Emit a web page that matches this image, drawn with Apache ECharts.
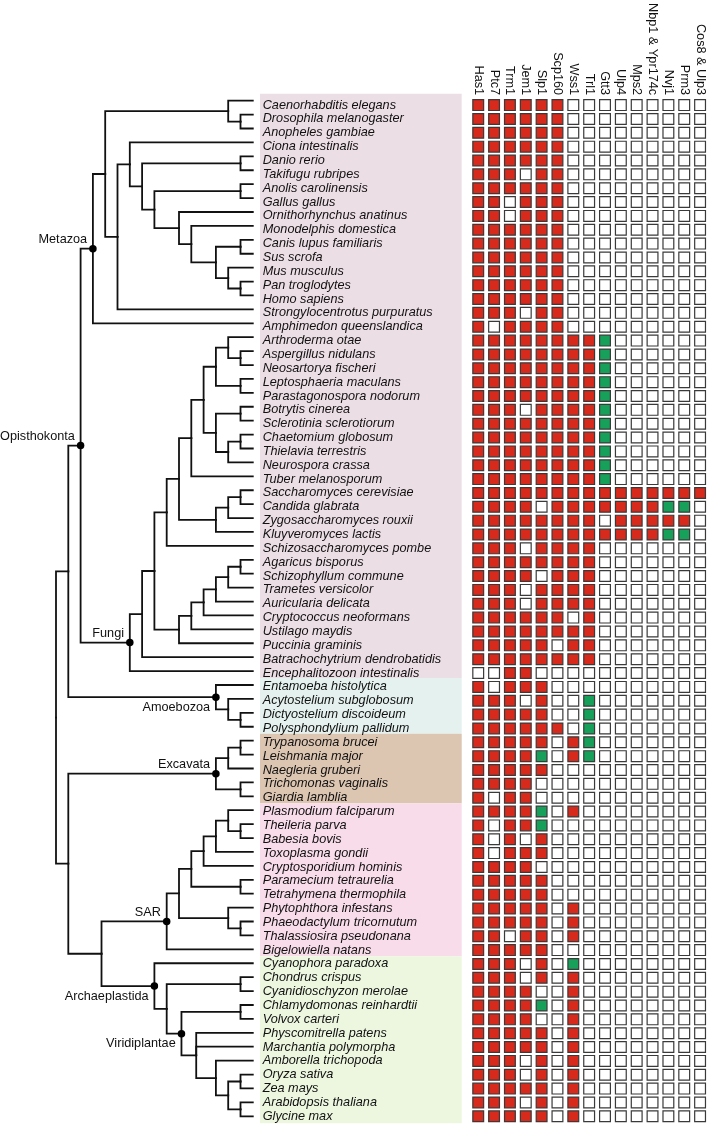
<!DOCTYPE html>
<html><head><meta charset="utf-8">
<script src="https://cdn.jsdelivr.net/npm/echarts@6/dist/echarts.min.js"></script>
<style>html,body{margin:0;padding:0;background:#fff}#c{width:708px;height:1125px}</style>
</head><body><div id="c"></div>
<script>
// ---------------- DATA ----------------
const species = [
 'Caenorhabditis elegans','Drosophila melanogaster','Anopheles gambiae','Ciona intestinalis','Danio rerio',
 'Takifugu rubripes','Anolis carolinensis','Gallus gallus','Ornithorhynchus anatinus','Monodelphis domestica',
 'Canis lupus familiaris','Sus scrofa','Mus musculus','Pan troglodytes','Homo sapiens',
 'Strongylocentrotus purpuratus','Amphimedon queenslandica',
 'Arthroderma otae','Aspergillus nidulans','Neosartorya fischeri','Leptosphaeria maculans','Parastagonospora nodorum',
 'Botrytis cinerea','Sclerotinia sclerotiorum','Chaetomium globosum','Thielavia terrestris','Neurospora crassa',
 'Tuber melanosporum','Saccharomyces cerevisiae','Candida glabrata','Zygosaccharomyces rouxii','Kluyveromyces lactis',
 'Schizosaccharomyces pombe','Agaricus bisporus','Schizophyllum commune','Trametes versicolor','Auricularia delicata',
 'Cryptococcus neoformans','Ustilago maydis','Puccinia graminis','Batrachochytrium dendrobatidis','Encephalitozoon intestinalis',
 'Entamoeba histolytica','Acytostelium subglobosum','Dictyostelium discoideum','Polysphondylium pallidum',
 'Trypanosoma brucei','Leishmania major','Naegleria gruberi','Trichomonas vaginalis','Giardia lamblia',
 'Plasmodium falciparum','Theileria parva','Babesia bovis','Toxoplasma gondii','Cryptosporidium hominis',
 'Paramecium tetraurelia','Tetrahymena thermophila','Phytophthora infestans','Phaeodactylum tricornutum',
 'Thalassiosira pseudonana','Bigelowiella natans',
 'Cyanophora paradoxa','Chondrus crispus','Cyanidioschyzon merolae','Chlamydomonas reinhardtii','Volvox carteri',
 'Physcomitrella patens','Marchantia polymorpha','Amborella trichopoda','Oryza sativa','Zea mays',
 'Arabidopsis thaliana','Glycine max'
];
const genes = ['Has1','Ptc7','Trm1','Jem1','Slp1','Scp160','Wss1','Trl1','Gtt3','Ulp4','Mps2','Nbp1 & Ypr174c','Nvj1','Prm3','Cos8 & Ulp3'];
// 0 = absent, 1 = present (red), 2 = present (green); one string per species, one digit per gene
const presence = [
 '111111000000000','111111000000000','111111000000000','111111000000000','111111000000000',
 '111011000000000','111111000000000','110111000000000','110111000000000','111111000000000',
 '111111000000000','111111000000000','111111000000000','111111000000000','111111000000000',
 '111011000000000','101111000000000',
 '111111112000000','111111112000000','111111112000000','111111112000000','111111112000000',
 '111011112000000','111111112000000','111111112000000','111111112000000','111111112000000',
 '111111112000000','111111111111111','111101111111220','111111110111110','111111111111220',
 '111011110000000','111111110000000','111101110000000','111011110000000','111011110000000',
 '111111010000000','111111110000000','111110110000000','111111110000000','001100000000000',
 '101110000000000','111010020000000','111110020000000','111111020000000',
 '111110120000000','111120120000000','111110000000000','111100000000000','101100000000000',
 '111120100000000','101120000000000','101010000000000','101110000000000','111100000000000',
 '111110000000000','111110000000000','111110100000000','111110100000000',
 '110110100000000','111110000000000',
 '111010200000000','111010100000000','111100100000000','111120100000000','111100100000000',
 '111110100000000','111110100000000','111010100000000','111010100000000','111110100000000',
 '111010100000000','111110100000000'
];
// tree: [node depth level, ...children]; leaves are species row indices (depth 16)
const leafLevel = 16;
const metazoa = [3, [4, [14, 0, [15, 1, 2]], [5, [6, 3, [7, [15, 4, 5], [8, [15, 6, 7], [10, 8, [11, 9, [13, [15, 10, 11], [14, 12, [15, 13, 14]]]]]]]], 15]], 16];
const pezizomycotina = [11, [12, [13, [14, 17, [15, 18, 19]], [15, 20, 21]], [13, [15, 22, 23], [14, [15, 24, 25], 26]]], 27];
const saccharomycotina = [13, [14, [15, 28, 29], 30], 31];
const ascomycota = [9, [10, pezizomycotina, saccharomycotina], 32];
const basidiomycota = [10, [11, [12, [13, [14, [15, 33, 34], 35], 36], 37], 38], 39];
const fungi = [6, [7, [8, ascomycota, basidiomycota], 40], 41];
const opisthokonta = [2, metazoa, fungi];
const amoebozoa = [13, 42, [14, 43, [15, 44, 45]]];
const excavata = [13, [14, [15, 46, 47], 48], [15, 49, 50]];
const sar = [9, [10, [11, [12, [13, [14, 51, [15, 52, 53]], 54], 55], [15, 56, 57]], [14, 58, [15, 59, 60]]], 61];
const viridiplantae = [10.2, [15, 65, 66], [11.4, 67, 68, [13, 69, [14, [15, 70, 71], [15, 72, 73]]]]];
const archaeplastida = [8, 62, [9, [15, 63, 64], viridiplantae]];
const tree = [0, [1, opisthokonta, amoebozoa], [1, excavata, [3.7, sar, archaeplastida]]];
const cladeLabels = [
 ['Metazoa', metazoa, 'above'], ['Opisthokonta', opisthokonta, 'above'], ['Fungi', fungi, 'above'],
 ['Amoebozoa', amoebozoa, 'below'], ['Excavata', excavata, 'above'], ['SAR', sar, 'above'],
 ['Archaeplastida', archaeplastida, 'below'], ['Viridiplantae', viridiplantae, 'below']
];
const bandGroups = [['Opisthokonta', 0, 41], ['Amoebozoa', 42, 45], ['Excavata', 46, 50], ['SAR', 51, 61], ['Archaeplastida', 62, 73]];

// ---------------- STYLE ----------------
const bandColors = {Opisthokonta:'#ecdee5', Amoebozoa:'#e4f1ee', Excavata:'#dcc5b1', SAR:'#f8dcea', Archaeplastida:'#edf7e0'};
const cellColors = ['#ffffff', '#d8291d', '#17a05a'];
const FONT = 'Liberation Sans, Arial, Helvetica, sans-serif';
const TOP = 93.74, HEIGHT = 1029.5;

// ---------------- LAYOUT (tree) ----------------
const edges = [];
const nodePos = new Map();
function layout(n) {
  if (typeof n === 'number') return {x: leafLevel, y: n};
  const kids = n.slice(1).map(layout);
  const y = (kids[0].y + kids[kids.length - 1].y) / 2;
  kids.forEach(k => edges.push([n[0], y, k.x, k.y]));
  nodePos.set(n, [n[0], y]);
  return {x: n[0], y};
}
layout(tree);

const cells = [];
presence.forEach((row, r) => row.split('').forEach((v, c) => cells.push([c, r, +v])));

const chart = echarts.init(document.getElementById('c'), null, {renderer: 'canvas'});
chart.setOption({
  animation: false,
  backgroundColor: '#fff',
  grid: [
    {left: 56, top: TOP, width: 196.8, height: HEIGHT},      // tree
    {left: 260, top: TOP, width: 201.7, height: HEIGHT},     // bands
    {left: 470.3, top: TOP, width: 239.4, height: HEIGHT}    // matrix
  ],
  xAxis: [
    {gridIndex: 0, type: 'value', min: 0, max: leafLevel, show: false},
    {gridIndex: 1, type: 'value', min: 0, max: 1, show: false},
    {gridIndex: 2, type: 'category', data: genes, position: 'top', z: 10,
     axisLine: {show: false}, axisTick: {show: false}, splitLine: {show: false},
     axisLabel: {interval: 0, rotate: 90, margin: 3, fontSize: 12.7, color: '#111', fontFamily: FONT}}
  ],
  yAxis: [
    {gridIndex: 0, type: 'value', min: -0.5, max: species.length - 0.5, inverse: true, show: false},
    {gridIndex: 1, type: 'value', min: -0.5, max: species.length - 0.5, inverse: true, show: false},
    {gridIndex: 2, type: 'category', data: species, inverse: true, z: 10,
     axisLine: {show: false}, axisTick: {show: false}, splitLine: {show: false},
     axisLabel: {interval: 0, margin: 207.6, align: 'left', fontSize: 12.7, fontStyle: 'italic', color: '#111', fontFamily: FONT}}
  ],
  series: [
    {
      type: 'custom', xAxisIndex: 1, yAxisIndex: 1, silent: true, z: -1,
      data: bandGroups.map(g => [0, g[1] - 0.5, 1, g[2] + 0.5, g[0]]),
      encode: {x: [0, 2], y: [1, 3]},
      renderItem: (params, api) => {
        const a = api.coord([api.value(0), api.value(1)]);
        const b = api.coord([api.value(2), api.value(3)]);
        const name = bandGroups[params.dataIndex][0];
        return {type: 'rect', shape: {x: a[0], y: a[1], width: b[0] - a[0], height: b[1] - a[1]}, style: {fill: bandColors[name]}};
      }
    },
    {
      type: 'custom', xAxisIndex: 0, yAxisIndex: 0, silent: true,
      data: edges,
      encode: {x: [0, 2], y: [1, 3]},
      renderItem: (params, api) => {
        const p = api.coord([api.value(0), api.value(1)]);
        const m = api.coord([api.value(0), api.value(3)]);
        const c = api.coord([api.value(2), api.value(3)]);
        return {type: 'polyline', shape: {points: [p, m, c]}, style: {stroke: '#111', lineWidth: 1.8, fill: null, lineJoin: 'miter', lineCap: 'square'}};
      }
    },
    {
      type: 'scatter', xAxisIndex: 0, yAxisIndex: 0, silent: true,
      symbol: 'circle', symbolSize: 7.5, itemStyle: {color: '#000', opacity: 1},
      data: cladeLabels.map(c => ({name: c[0], value: nodePos.get(c[1]),
        label: {show: true, position: 'left', distance: 2, offset: [0, c[2] === 'above' ? -9 : 10],
          formatter: '{b}', fontSize: 12.7, color: '#111', fontFamily: FONT}}))
    },
    {
      type: 'scatter', xAxisIndex: 2, yAxisIndex: 2, silent: true,
      symbol: 'rect', symbolSize: 10.8,
      data: cells,
      itemStyle: {color: p => cellColors[p.value[2]], borderColor: '#3a3a3a', borderWidth: 1.2, opacity: 1}
    }
  ]
});
</script></body></html>
